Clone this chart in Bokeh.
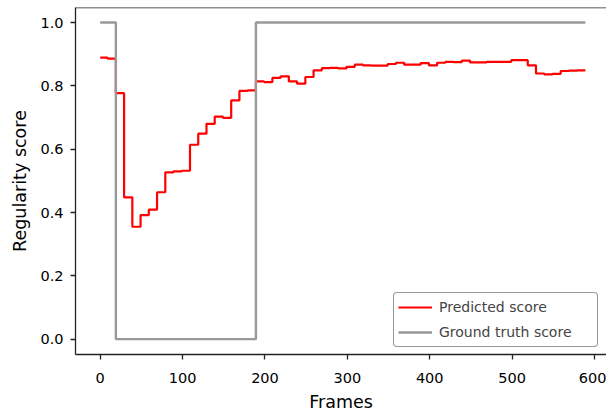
from bokeh.plotting import figure
from bokeh.models import Range1d, FixedTicker, PrintfTickFormatter, Legend, LegendItem, Span
from bokeh.embed import file_html
from bokeh.resources import INLINE

# Predicted regularity score (step starts, frame index) and values
pred_frames = [0, 9, 19, 29, 39, 49, 59, 69, 79, 89, 99, 109, 119, 129, 139, 149, 159, 169, 179,
               189, 199, 209, 219, 229, 239, 249, 259, 269, 279, 289, 299, 309, 319, 329, 339,
               349, 359, 369, 379, 389, 399, 409, 419, 429, 439, 449, 459, 469, 479, 489, 499,
               509, 519, 529, 539, 549, 559, 569, 579, 589]
pred_scores = [0.889, 0.886, 0.777, 0.448, 0.355, 0.392, 0.409, 0.464, 0.527, 0.530, 0.532,
               0.614, 0.649, 0.680, 0.703, 0.699, 0.754, 0.784, 0.786,
               0.814, 0.812, 0.825, 0.830, 0.814, 0.807, 0.828, 0.849, 0.856, 0.857, 0.855,
               0.860, 0.867, 0.865, 0.864, 0.864, 0.869, 0.873, 0.867, 0.867, 0.872, 0.865,
               0.873, 0.876, 0.875, 0.880, 0.874, 0.874, 0.876, 0.876, 0.876, 0.881, 0.881,
               0.865, 0.839, 0.836, 0.838, 0.847, 0.848, 0.849, 0.849]

# Ground truth score (step starts) and values
gt_frames = [0, 19, 189, 589]
gt_scores = [1.0, 0.0, 1.0, 1.0]

x_ticks = [0, 100, 200, 300, 400, 500, 600]
y_ticks = [0.0, 0.2, 0.4, 0.6, 0.8, 1.0]

FONT = "DejaVu Sans"
Y_TOP = 1.0475

p = figure(width=606, height=416, output_backend="svg", toolbar_location=None,
           x_range=Range1d(-30, 614.6), y_range=Range1d(-0.0484, Y_TOP),
           min_border_left=75, min_border_right=0, min_border_top=7, min_border_bottom=62,
           background_fill_color="white", border_fill_color="white")

r_pred = p.step(pred_frames, pred_scores, mode="after", line_color="#ff0000", line_width=2.2)
r_gt = p.step(gt_frames, gt_scores, mode="after", line_color="#999999", line_width=2.4)

p.xgrid.visible = False
p.ygrid.visible = False
# top spine only (right spine lies outside the picture in the reference)
p.outline_line_color = None
p.add_layout(Span(location=Y_TOP, dimension="width", line_color="#222222", line_width=1.3))

p.xaxis.ticker = FixedTicker(ticks=x_ticks)
p.yaxis.ticker = FixedTicker(ticks=y_ticks)
p.yaxis.formatter = PrintfTickFormatter(format="%.1f")
p.xaxis.axis_label = "Frames"
p.yaxis.axis_label = "Regularity score"

for ax in (p.xaxis, p.yaxis):
    ax.axis_line_color = "#222222"
    ax.axis_line_width = 1.3
    ax.major_tick_line_color = "#222222"
    ax.major_tick_line_width = 1.3
    ax.major_tick_out = 5
    ax.major_tick_in = 0
    ax.minor_tick_out = 0
    ax.minor_tick_in = 0
    ax.major_label_text_font = FONT
    ax.major_label_text_font_size = "14.5px"
    ax.major_label_text_color = "black"
    ax.axis_label_text_font = FONT
    ax.axis_label_text_font_size = "17.5px"
    ax.axis_label_text_font_style = "normal"
    ax.axis_label_text_color = "black"

p.xaxis.major_label_standoff = 13
p.yaxis.major_label_standoff = 7
p.xaxis.axis_label_standoff = 6
p.yaxis.axis_label_standoff = 7

legend = Legend(items=[LegendItem(label="Predicted score", renderers=[r_pred]),
                       LegendItem(label="Ground truth score", renderers=[r_gt])],
                location=(318, 7), margin=0, padding=4, spacing=5,
                glyph_width=34, glyph_height=20, label_height=20, label_width=154,
                label_standoff=7, label_text_font=FONT, label_text_font_size="14px",
                border_line_color="#333333", border_line_width=1.2, border_radius=4,
                background_fill_color="white", background_fill_alpha=1.0)
p.add_layout(legend)

open("out.html", "w").write(file_html(p, INLINE))
